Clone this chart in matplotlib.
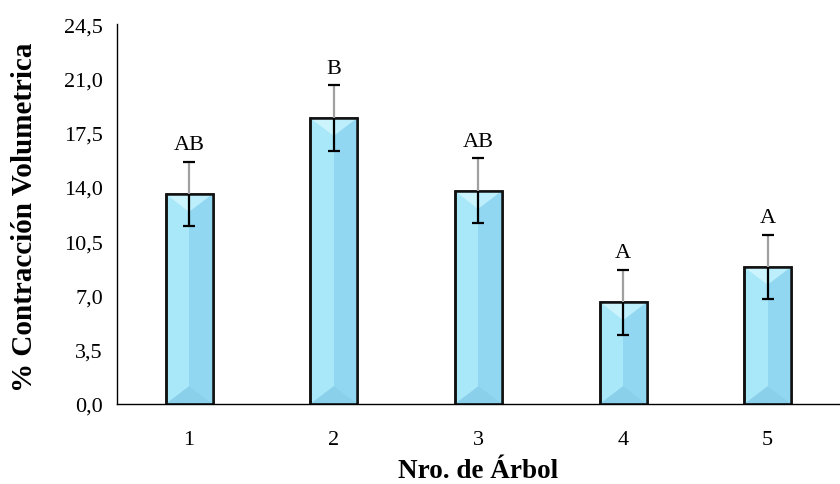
import numpy as np
import matplotlib
matplotlib.use("Agg")
import matplotlib.pyplot as plt
from matplotlib.patches import Polygon

# datos de contraccion volumetrica por arbol
arboles = ["1", "2", "3", "4", "5"]
contraccion = [13.55, 18.45, 13.75, 6.55, 8.85]
desv = [2.05, 2.1, 2.1, 2.1, 2.05]
letras = ["AB", "B", "AB", "A", "A"]
yticks = [0.0, 3.5, 7.0, 10.5, 14.0, 17.5, 21.0, 24.5]

plt.rcParams["font.family"] = ["Liberation Serif", "DejaVu Serif"]

fig = plt.figure(figsize=(8.4, 4.85), dpi=100)
ax = fig.add_axes([0.139, 0.165, 0.861, 0.783])

x = np.arange(len(arboles))
ancho = 0.325
ax.set_xlim(-0.5, len(arboles) - 0.5)
ax.set_ylim(0, 24.5)

bars = ax.bar(x, contraccion, width=ancho, color="#a9e8f9",
              edgecolor="#111111", linewidth=1.8, zorder=2)

# efecto de bisel sobre cada barra
fig.canvas.draw()
inv = ax.transData.inverted()
for b in bars:
    x0 = b.get_x()
    x1 = x0 + b.get_width()
    xc = (x0 + x1) / 2
    h = b.get_height()
    px0 = ax.transData.transform((x0, 0))
    px1 = ax.transData.transform((x1, 0))
    dpx = (px1[0] - px0[0]) * 0.38
    d = inv.transform((0, px0[1] + dpx))[1] - inv.transform((0, px0[1]))[1]
    d = min(d, h / 2)
    ax.add_patch(Polygon([(xc, 0), (x1, 0), (x1, h), (xc, h)],
                         closed=True, facecolor="#92d7f1", edgecolor="none", zorder=2.1))
    ax.add_patch(Polygon([(x0, h), (xc, h), (xc, h - d)],
                         closed=True, facecolor="#cbf4fd", edgecolor="none", zorder=2.2))
    ax.add_patch(Polygon([(xc, h), (x1, h), (xc, h - d)],
                         closed=True, facecolor="#bdeefb", edgecolor="none", zorder=2.2))
    ax.add_patch(Polygon([(x0, 0), (x1, 0), (xc, d)],
                         closed=True, facecolor="#8bd0eb", edgecolor="none", zorder=2.2))
    ax.add_patch(Polygon([(x0, 0), (x1, 0), (x1, h), (x0, h)],
                         closed=True, facecolor="none", edgecolor="#111111",
                         linewidth=1.8, zorder=2.3))

# barras de error: tramo inferior negro, tramo superior gris
for xi, v, e in zip(x, contraccion, desv):
    ax.vlines(xi, v - e, v, color="black", linewidth=1.6, zorder=3)
    ax.vlines(xi, v, v + e, color="#a0a0a0", linewidth=1.6, zorder=3)
    ax.plot([xi, xi], [v - e, v + e], linestyle="none", marker="_",
            markersize=8.5, markeredgewidth=1.6, color="black", zorder=3.1)

for xi, v, e, t in zip(x, contraccion, desv, letras):
    ax.text(xi, v + e + 0.5, t, ha="center", va="bottom", fontsize=16)

ax.set_yticks(yticks)
ax.set_yticklabels([f"{t:.1f}".replace(".", ",") for t in yticks])
ax.set_xticks(x)
ax.set_xticklabels(arboles)
ax.tick_params(axis="both", length=0, labelsize=16)
ax.tick_params(axis="x", pad=19)
ax.tick_params(axis="y", pad=10)

for s in ["top", "right"]:
    ax.spines[s].set_visible(False)
ax.spines["left"].set_linewidth(1.0)
ax.spines["bottom"].set_linewidth(1.0)

ax.set_ylabel("% Contracción Volumetrica", fontsize=21, fontweight="bold",
              va="center")
ax.set_xlabel("Nro. de Árbol", fontsize=19.5, fontweight="bold", va="center")
ax.yaxis.set_label_coords(-0.128, 0.495)
ax.xaxis.set_label_coords(0.5, -0.174)

fig.savefig("out.png", dpi=100)
